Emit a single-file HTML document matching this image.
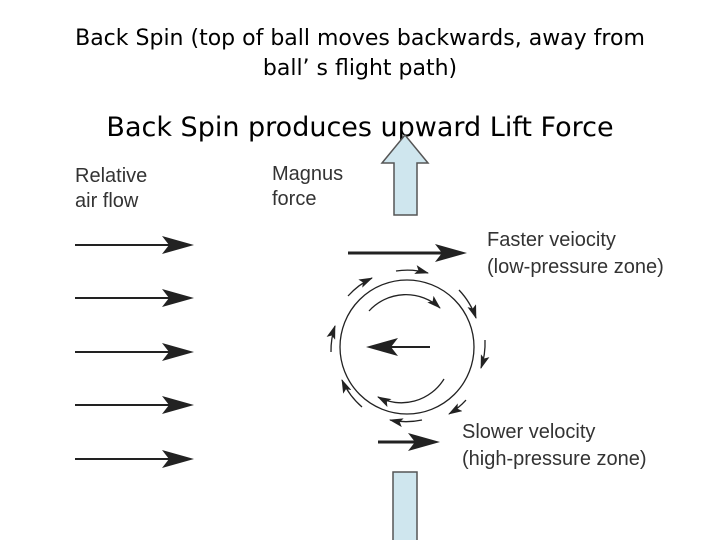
<!DOCTYPE html>
<html><head><style>
body{margin:0;width:720px;height:540px;background:#fff;overflow:hidden}
svg{position:absolute;left:0;top:0}
</style></head><body>
<svg width="720" height="540" xmlns="http://www.w3.org/2000/svg">
<defs>
<marker id="s" markerWidth="14" markerHeight="9" refX="13" refY="4.5" orient="auto" markerUnits="userSpaceOnUse"><path d="M0,0 L14,4.5 L0,9 L3,4.5Z" fill="#222"/></marker>
<path id="big" d="M-32,-9 L0,0 L-32,9 L-25,0Z" fill="#222"/>
</defs>
<g font-family="DejaVu Sans, sans-serif" fill="#000">
<text x="360" y="45" font-size="22" text-anchor="middle">Back Spin (top of ball moves backwards, away from</text>
<text x="360" y="75" font-size="22" text-anchor="middle">ball’ s flight  path)</text>
<text x="360" y="136" font-size="27" text-anchor="middle">Back Spin produces upward Lift Force</text>
</g>
<g font-family="Liberation Sans, sans-serif" font-size="20" fill="#333">
<text x="75" y="182">Relative</text><text x="75" y="207">air flow</text>
<text x="272" y="180">Magnus</text><text x="272" y="205">force</text>
<text x="487" y="246">Faster veiocity</text><text x="487" y="273">(low-pressure zone)</text>
<text x="462" y="438">Slower velocity</text><text x="462" y="465">(high-pressure zone)</text>
</g>
<path d="M394,215 L394,163 L382,163 L405,135 L428,163 L417,163 L417,215Z" fill="#cfe6ee" stroke="#555" stroke-width="1.5"/>
<path d="M393,540 L393,472 L417,472 L417,540" fill="#cfe6ee" stroke="#555" stroke-width="1.5"/>
<g stroke="#222" stroke-width="2" fill="none">
<line x1="75" y1="245" x2="175" y2="245"/>
<line x1="75" y1="298" x2="175" y2="298"/>
<line x1="75" y1="352" x2="175" y2="352"/>
<line x1="75" y1="405" x2="175" y2="405"/>
<line x1="75" y1="459" x2="175" y2="459"/>
<line x1="348" y1="253" x2="445" y2="253" stroke-width="3"/>
<line x1="378" y1="442" x2="420" y2="442" stroke-width="3"/>
<line x1="430" y1="347" x2="385" y2="347" stroke-width="2"/>
</g>
<use href="#big" transform="translate(194,245)"/>
<use href="#big" transform="translate(194,298)"/>
<use href="#big" transform="translate(194,352)"/>
<use href="#big" transform="translate(194,405)"/>
<use href="#big" transform="translate(194,459)"/>
<use href="#big" transform="translate(467,253)"/>
<use href="#big" transform="translate(440,442)"/>
<use href="#big" transform="translate(366,347) rotate(180)"/>
<g stroke="#222" stroke-width="1.3" fill="none">
<circle cx="407" cy="347" r="67"/>
<path d="M369,311 A50,50 0 0 1 440,308" marker-end="url(#s)"/>
<path d="M444,379 A50,50 0 0 1 378,397" marker-end="url(#s)"/>
<path d="M396,271 A77,77 0 0 1 428,273" marker-end="url(#s)"/>
<path d="M459,290 A77,77 0 0 1 476,318" marker-end="url(#s)"/>
<path d="M485,340 A77,77 0 0 1 481,368" marker-end="url(#s)"/>
<path d="M466,400 A77,77 0 0 1 449,414" marker-end="url(#s)"/>
<path d="M422,420 A77,77 0 0 1 390,420" marker-end="url(#s)"/>
<path d="M362,407 A77,77 0 0 1 342,380" marker-end="url(#s)"/>
<path d="M331,352 A77,77 0 0 1 335,326" marker-end="url(#s)"/>
<path d="M348,296 A77,77 0 0 1 372,278" marker-end="url(#s)"/>
</g>
</svg>
</body></html>
